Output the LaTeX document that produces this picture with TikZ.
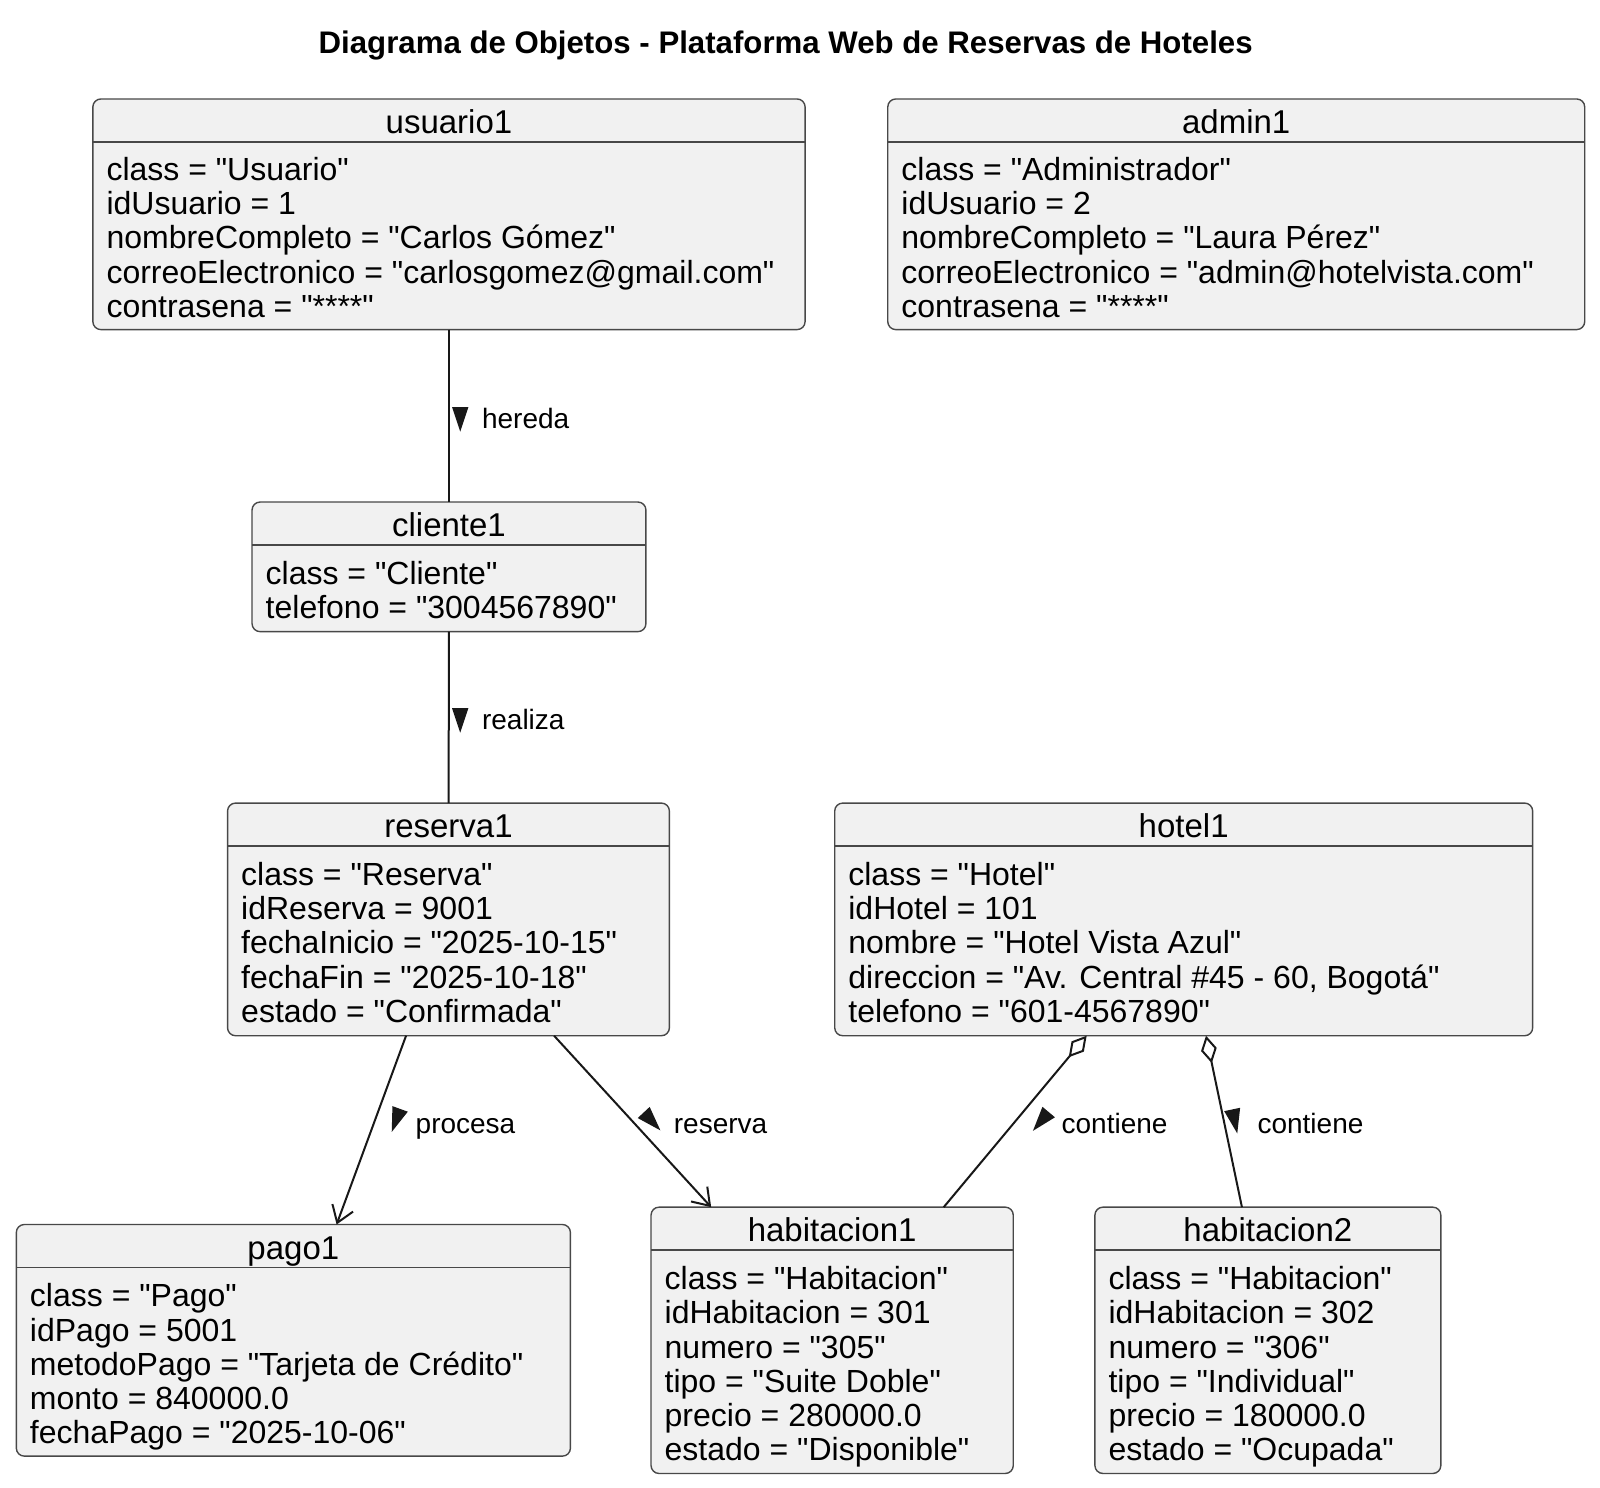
\documentclass[tikz,border=0pt]{standalone}
\usepackage{fontspec}
\setmainfont{Liberation Sans}[Ligatures=TeXOff]
\usepackage{tikz}
\usetikzlibrary{arrows.meta, positioning, calc, fit}
\definecolor{objfill}{RGB}{241, 241, 241}
\definecolor{objline}{RGB}{72, 72, 72}
\definecolor{linkcol}{RGB}{24, 24, 24}

\begin{document}
\begin{tikzpicture}[x=0.5102pt, y=-0.5102pt,
  obj/.style={draw=objline, fill=objfill, rounded corners=4pt, line width=0.7pt, inner sep=0pt, outer sep=0pt},
  sep/.style={draw=objline, line width=0.7pt},
  objname/.style={anchor=base, inner sep=0pt, font=\fontsize{16.5}{18}\selectfont},
  attrs/.style={anchor=north west, align=left, inner sep=0pt, font=\fontsize{16}{17.15}\selectfont,
    execute at begin node=\strut},
  link/.style={draw=linkcol, line width=1pt},
  navarrow/.style={-{Straight Barb[length=8pt, width=11pt]}},
  lbl/.style={anchor=base west, inner sep=0pt, font=\fontsize{14}{16}\selectfont},
  dirmark/.pic={\fill[linkcol] (12,0) -- (-12,8) -- (-12,-8) -- cycle;},
]
\useasboundingbox (0,0) rectangle (1568,1458);

% Title
\node[anchor=base, inner sep=0pt, font=\bfseries\fontsize{15.6}{18}\selectfont] (title) at (770,52)
{Diagrama de Objetos - Plataforma Web de Reservas de Hoteles};

% usuario1
\node[obj, fit={(91,97) (789,323)}] (usuario1) {};
\draw[sep] (91,139) -- (789,139);
\node[objname] at (440,131) {usuario1};
\node[attrs] at (104,153.5) {class = "Usuario"\\idUsuario = 1\\nombreCompleto = "Carlos Gómez"\\correoElectronico = "carlosgomez@gmail.com"\\contrasena = "****"};

% admin1
\node[obj, fit={(870,97) (1553,323)}] (admin1) {};
\draw[sep] (870,139) -- (1553,139);
\node[objname] at (1211.5,131) {admin1};
\node[attrs] at (883,153.5) {class = "Administrador"\\idUsuario = 2\\nombreCompleto = "Laura Pérez"\\correoElectronico = "admin@hotelvista.com"\\contrasena = "****"};

% cliente1
\node[obj, fit={(247,492) (633,619)}] (cliente1) {};
\draw[sep] (247,534) -- (633,534);
\node[objname] at (440,526) {cliente1};
\node[attrs] at (260,549.5) {class = "Cliente"\\telefono = "3004567890"};

% reserva1
\node[obj, fit={(223,787) (656,1015)}] (reserva1) {};
\draw[sep] (223,829) -- (656,829);
\node[objname] at (439.5,821) {reserva1};
\node[attrs] at (236,844.5) {class = "Reserva"\\idReserva = 9001\\fechaInicio = "2025-10-15"\\fechaFin = "2025-10-18"\\estado = "Confirmada"};

% hotel1
\node[obj, fit={(818,787) (1502,1015)}] (hotel1) {};
\draw[sep] (818,829) -- (1502,829);
\node[objname] at (1160,821) {hotel1};
\node[attrs] at (831,844.5) {class = "Hotel"\\idHotel = 101\\nombre = "Hotel Vista Azul"\\direccion = "Av. Central \#45 - 60, Bogotá"\\telefono = "601-4567890"};

% pago1
\node[obj, fit={(16,1200) (559,1427)}] (pago1) {};
\draw[sep] (16,1242) -- (559,1242);
\node[objname] at (287.5,1234) {pago1};
\node[attrs] at (29,1257.5) {class = "Pago"\\idPago = 5001\\metodoPago = "Tarjeta de Crédito"\\monto = 840000.0\\fechaPago = "2025-10-06"};

% habitacion1
\node[obj, fit={(638,1183) (993,1444)}] (habitacion1) {};
\draw[sep] (638,1225) -- (993,1225);
\node[objname] at (815.5,1217) {habitacion1};
\node[attrs] at (651,1240.5) {class = "Habitacion"\\idHabitacion = 301\\numero = "305"\\tipo = "Suite Doble"\\precio = 280000.0\\estado = "Disponible"};

% habitacion2
\node[obj, fit={(1073,1183) (1412,1444)}] (habitacion2) {};
\draw[sep] (1073,1225) -- (1412,1225);
\node[objname] at (1242.5,1217) {habitacion2};
\node[attrs] at (1086,1240.5) {class = "Habitacion"\\idHabitacion = 302\\numero = "306"\\tipo = "Individual"\\precio = 180000.0\\estado = "Ocupada"};

% Links
\draw[link] (usuario1) -- (cliente1);
\pic[rotate=-90] at (451,411) {dirmark};
\node[lbl] (hereda) at (472,420) {hereda};

\draw[link] (cliente1) -- (reserva1);
\pic[rotate=-90] at (451,706) {dirmark};
\node[lbl] (realiza) at (472,715) {realiza};

\draw[link, navarrow] ($(reserva1.south west)!0.404!(reserva1.south east)$) -- ($(pago1.north west)!0.578!(pago1.north east)$);
\pic[rotate=-110] at (388,1098) {dirmark};
\node[lbl] (procesa) at (407,1111) {procesa};

\draw[link, navarrow] ($(reserva1.south west)!0.739!(reserva1.south east)$) -- ($(habitacion1.north west)!0.166!(habitacion1.north east)$);
\pic[rotate=-47] at (639,1099) {dirmark};
\node[lbl] (reserva) at (660,1111) {reserva};

\draw[link, {Diamond[open, length=14pt, width=8pt]}-] ($(hotel1.south west)!0.361!(hotel1.south east)$) -- ($(habitacion1.north west)!0.808!(habitacion1.north east)$);
\pic[rotate=-130] at (1020,1099) {dirmark};
\node[lbl] (contiene1) at (1040,1111) {contiene};

\draw[link, {Diamond[open, length=14pt, width=8pt]}-] ($(hotel1.south west)!0.532!(hotel1.south east)$) -- ($(habitacion2.north west)!0.425!(habitacion2.north east)$);
\pic[rotate=-78] at (1210,1099) {dirmark};
\node[lbl] (contiene2) at (1232,1111) {contiene};
\end{tikzpicture}
\end{document}
